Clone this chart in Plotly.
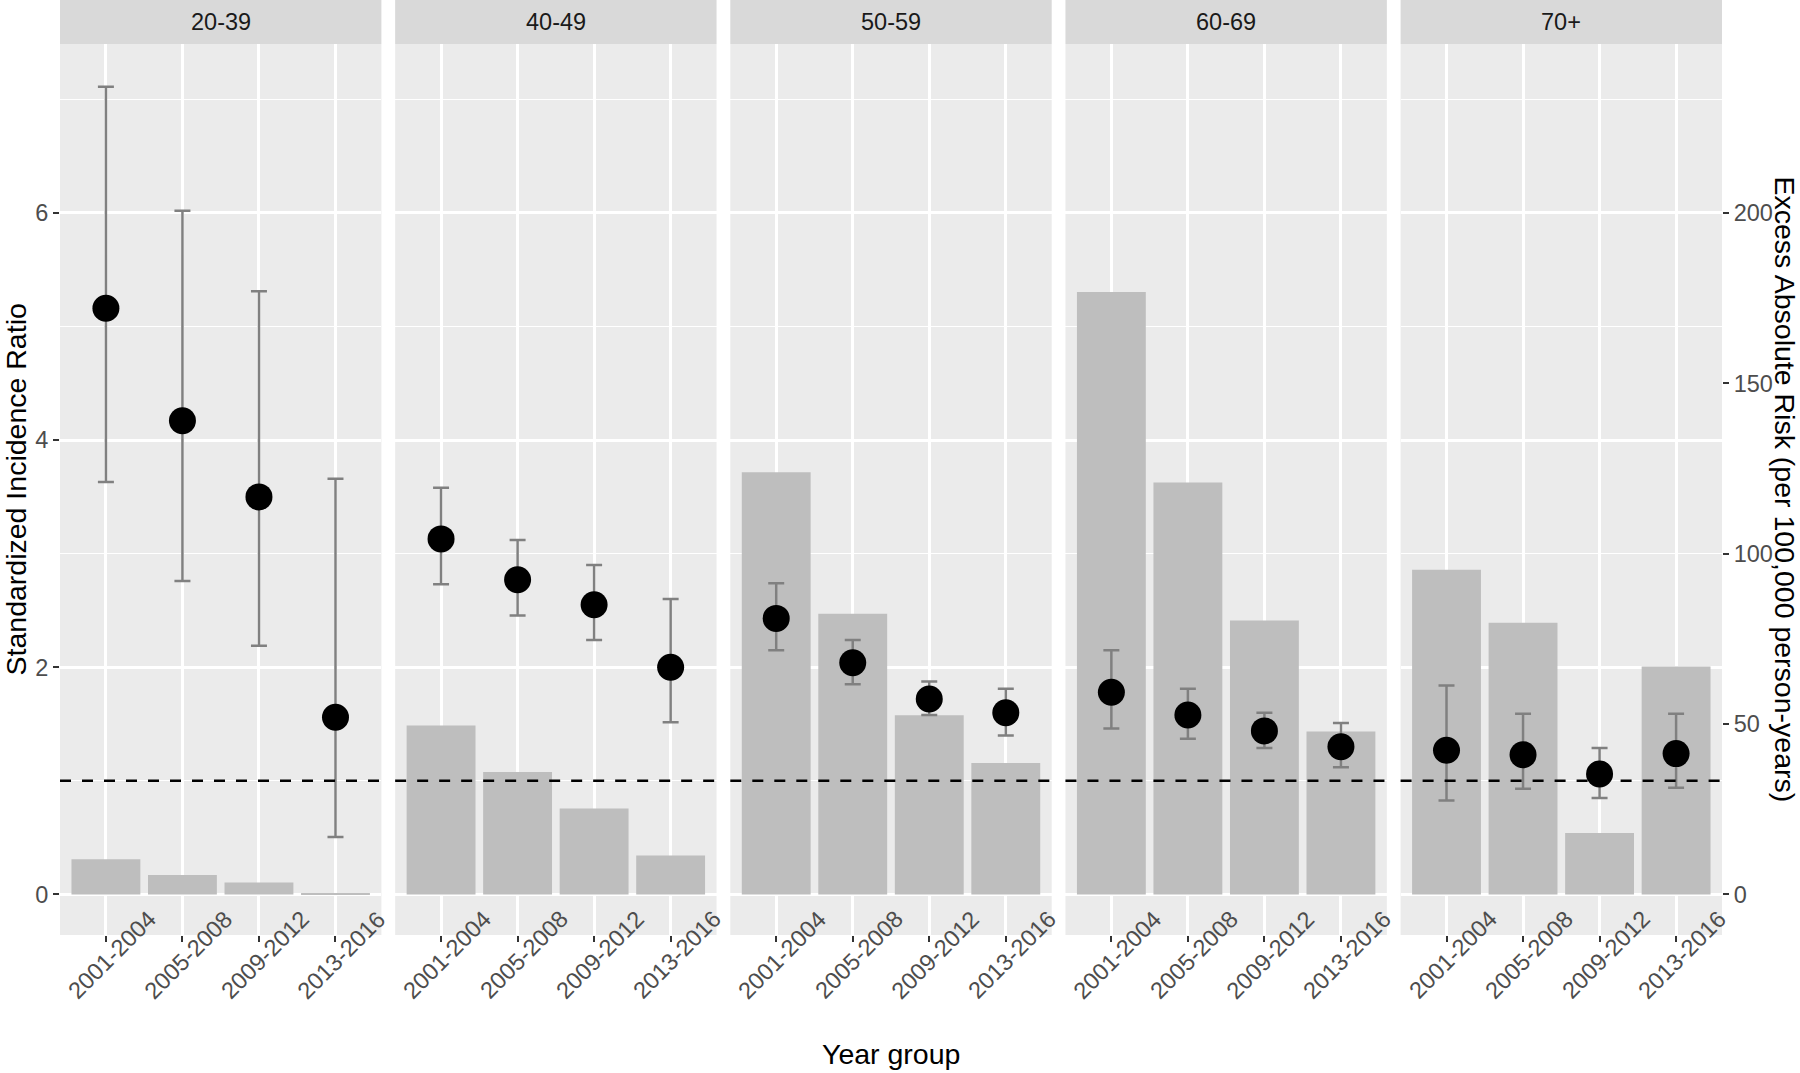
import plotly.graph_objects as go

# ---------------- data ----------------
years = ["2001-2004", "2005-2008", "2009-2012", "2013-2016"]
age_groups = ["20-39", "40-49", "50-59", "60-69", "70+"]

# Standardized incidence ratio (points) per age group
sir_point = [
    [5.16, 4.17, 3.50, 1.56],
    [3.13, 2.77, 2.55, 2.00],
    [2.43, 2.04, 1.72, 1.60],
    [1.78, 1.58, 1.44, 1.30],
    [1.27, 1.23, 1.06, 1.24],
]
sir_lower = [
    [3.63, 2.76, 2.19, 0.505],
    [2.73, 2.455, 2.24, 1.515],
    [2.15, 1.85, 1.58, 1.40],
    [1.46, 1.37, 1.29, 1.12],
    [0.826, 0.93, 0.85, 0.94],
]
sir_upper = [
    [7.11, 6.02, 5.31, 3.66],
    [3.58, 3.12, 2.90, 2.60],
    [2.74, 2.24, 1.875, 1.81],
    [2.15, 1.81, 1.60, 1.51],
    [1.84, 1.59, 1.29, 1.59],
]
# Excess absolute risk per 100,000 person-years (bars)
ear = [
    [10.3, 5.7, 3.5, 0.4],
    [49.6, 35.9, 25.2, 11.4],
    [123.9, 82.4, 52.6, 38.6],
    [176.8, 120.9, 80.4, 47.8],
    [95.3, 79.7, 18.0, 66.9],
]
sir_ticks = [0, 2, 4, 6]
ear_ticks = [0, 50, 100, 150, 200]
reference_sir = 1

# ---------------- layout constants ----------------
W, H = 1800, 1073
ML, MR, MT, MB = 60, 78, 0, 138
plot_w = W - ML - MR
plot_h = H - MT - MB
panel_w = 321.4
gap = (plot_w - 5 * panel_w) / 4
strip_h = 44
ydom_top = (plot_h - strip_h) / plot_h

SCALE = 100 / 3  # EAR units per SIR unit (secondary axis transform)
sir_range = [-0.357, 7.487]
ear_range = [sir_range[0] * SCALE, sir_range[1] * SCALE]

FONT = "Liberation Sans, Arial, Helvetica, sans-serif"
BAR_COL = "#BEBEBE"
ERR_COL = "#808080"
TICK_TXT = "#4D4D4D"
TXT_SIZE = 23.5
TITLE_SIZE = 28.5

fig = go.Figure()
layout = dict(
    width=W, height=H,
    margin=dict(l=ML, r=MR, t=MT, b=MB, pad=0),
    paper_bgcolor="white",
    plot_bgcolor="#EBEBEB",
    showlegend=False,
    font=dict(family=FONT, color="black"),
    barmode="overlay",
)
shapes = []
annotations = []

def px2py(p):
    return (plot_h - p) / plot_h

for i in range(5):
    n = i + 1
    xa = "x" if n == 1 else f"x{n}"
    ya_ear = "y" if n == 1 else f"y{n}"
    ya_sir = f"y{n + 5}"
    d0 = i * (panel_w + gap) / plot_w
    d1 = d0 + panel_w / plot_w

    layout["xaxis" if n == 1 else f"xaxis{n}"] = dict(
        domain=[d0, d1], type="category", categoryorder="array",
        categoryarray=years, range=[-0.6, 3.6],
        anchor=ya_ear, showgrid=True, gridcolor="white", gridwidth=2.7,
        zeroline=False, showline=False, showticklabels=False,
        ticks="outside", ticklen=6, tickwidth=2, tickcolor="#333333",
        fixedrange=True,
    )
    ear_ax = dict(
        domain=[0, ydom_top], range=ear_range, anchor=xa, side="right",
        showgrid=False, zeroline=False, showline=False, fixedrange=True,
    )
    if n == 5:
        ear_ax.update(tickvals=ear_ticks, ticks="outside", ticklen=6,
                      tickwidth=2, tickcolor="#333333",
                      tickfont=dict(size=TXT_SIZE, color=TICK_TXT, family=FONT))
    else:
        ear_ax.update(showticklabels=False, ticks="")
    layout["yaxis" if n == 1 else f"yaxis{n}"] = ear_ax

    sir_ax = dict(
        overlaying=ya_ear, anchor=xa, side="left", range=sir_range,
        tickvals=sir_ticks, showgrid=True, gridcolor="white", gridwidth=2.7,
        minor=dict(dtick=1, tick0=0, showgrid=True, gridcolor="white",
                   gridwidth=1.4, ticks=""),
        zeroline=False, showline=False, fixedrange=True,
    )
    if n == 1:
        sir_ax.update(ticks="outside", ticklen=6, tickwidth=2,
                      tickcolor="#333333",
                      tickfont=dict(size=TXT_SIZE, color=TICK_TXT, family=FONT))
    else:
        sir_ax.update(showticklabels=False, ticks="")
    layout[f"yaxis{n + 5}"] = sir_ax

    # bars (EAR, right-hand scale)
    fig.add_trace(go.Bar(
        x=years, y=ear[i], xaxis=xa, yaxis=ya_ear, width=0.9,
        marker=dict(color=BAR_COL, line=dict(width=0)),
        hoverinfo="skip",
    ))
    # points with CI (SIR, left-hand scale)
    up = [u - p for u, p in zip(sir_upper[i], sir_point[i])]
    dn = [p - l for p, l in zip(sir_point[i], sir_lower[i])]
    fig.add_trace(go.Scatter(
        x=years, y=sir_point[i], xaxis=xa, yaxis=ya_sir, mode="markers",
        marker=dict(color="black", size=27, line=dict(width=0)),
        error_y=dict(type="data", symmetric=False, array=up, arrayminus=dn,
                     color=ERR_COL, thickness=2.5, width=8),
    ))

    # reference line SIR = 1
    shapes.append(dict(
        type="line", xref=f"{xa} domain", x0=0, x1=1,
        yref=ya_sir, y0=reference_sir, y1=reference_sir,
        line=dict(color="black", width=2.5, dash="11px,11px"), layer="above",
    ))
    # facet strip
    shapes.append(dict(
        type="rect", xref="paper", yref="paper", x0=d0, x1=d1,
        y0=ydom_top, y1=1, fillcolor="#D9D9D9", line=dict(width=0),
        layer="below",
    ))
    annotations.append(dict(
        text=age_groups[i], xref="paper", yref="paper",
        x=(d0 + d1) / 2, y=(ydom_top + 1) / 2, xanchor="center",
        yanchor="middle", showarrow=False,
        font=dict(size=TXT_SIZE, color="#1A1A1A", family=FONT),
    ))
    # rotated category labels
    for yr in years:
        annotations.append(dict(
            text=yr, xref=xa, yref="paper", x=yr, y=px2py(955),
            xanchor="center", yanchor="middle", textangle=-45,
            xshift=6, showarrow=False,
            font=dict(size=TXT_SIZE, color=TICK_TXT, family=FONT),
        ))

# axis titles
annotations.append(dict(
    text="Standardized Incidence Ratio", xref="paper", yref="paper",
    x=(15 - ML) / plot_w, y=px2py(489.5), xanchor="center", yanchor="middle",
    textangle=-90, showarrow=False,
    font=dict(size=TITLE_SIZE, color="black", family=FONT),
))
annotations.append(dict(
    text="Excess Absolute Risk (per 100,000 person-years)", xref="paper",
    yref="paper", x=(1785 - ML) / plot_w, y=px2py(489.5), xanchor="center",
    yanchor="middle", textangle=90, showarrow=False,
    font=dict(size=TITLE_SIZE, color="black", family=FONT),
))
annotations.append(dict(
    text="Year group", xref="paper", yref="paper", x=0.5, y=px2py(1054),
    xanchor="center", yanchor="middle", showarrow=False,
    font=dict(size=TITLE_SIZE, color="black", family=FONT),
))

layout["shapes"] = shapes
layout["annotations"] = annotations
fig.update_layout(**layout)
fig.write_html(
    "out.html",
    config={"displayModeBar": False},
    post_script="document.body.style.margin='0';document.body.style.overflow='hidden';",
)
